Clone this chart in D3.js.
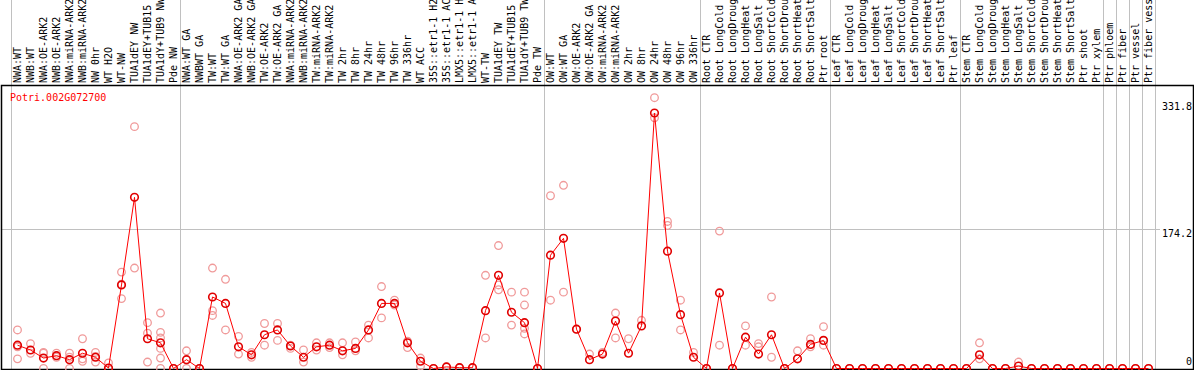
<!DOCTYPE html>
<html>
<head>
<meta charset="utf-8">
<script src="https://cdn.jsdelivr.net/npm/d3@7"></script>
<style>
  body { margin: 0; background: #fff; }
  svg text { font-family: "DejaVu Sans Mono", monospace; font-size: 10px; }
</style>
</head>
<body>
<div id="chart"></div>
<script>
// Expression of one gene across samples
const gene = "Potri.002G072700";

const samples = [
  "NWA:WT", "NWB:WT", "NWA:OE-ARK2", "NWB:OE-ARK2", "NWA:miRNA-ARK2", "NWB:miRNA-ARK2",
  "NW 0hr", "WT H2O", "WT-NW", "TUA1dEY NW", "TUA1dEY+TUB15 NW", "TUA1dY+TUB9 NW", "Pde NW",
  "NWA:WT GA", "NWBWT GA", "TW:WT", "TW:WT GA", "NWA:OE-ARK2 GA", "NWB:OE-ARK2 GA",
  "TW:OE-ARK2", "TW:OE-ARK2 GA", "NWA:miRNA-ARK2 GA", "NWB:miRNA-ARK2 GA", "TW:miRNA-ARK2",
  "TW:miRNA-ARK2 GA", "TW 2hr", "TW 8hr", "TW 24hr", "TW 48hr", "TW 96hr", "TW 336hr",
  "WT ACC", "35S::etr1-1 H2O", "35S::etr1-1 ACC", "LMX5::etr1-1 H2O", "LMX5::etr1-1 ACC",
  "WT-TW", "TUA1dEY TW", "TUA1dEY+TUB15 TW", "TUA1dY+TUB9 TW", "Pde TW",
  "OW:WT", "OW:WT GA", "OW:OE-ARK2", "OW:OE-ARK2 GA", "OW:miRNA-ARK2", "OW:miRNA-ARK2 GA",
  "OW 2hr", "OW 8hr", "OW 24hr", "OW 48hr", "OW 96hr", "OW 336hr",
  "Root CTR", "Root LongCold", "Root LongDrought", "Root LongHeat", "Root LongSalt",
  "Root ShortCold", "Root ShortDrought", "Root ShortHeat", "Root ShortSalt", "Ptr root",
  "Leaf CTR", "Leaf LongCold", "Leaf LongDrought", "Leaf LongHeat", "Leaf LongSalt",
  "Leaf ShortCold", "Leaf ShortDrought", "Leaf ShortHeat", "Leaf ShortSalt", "Ptr leaf",
  "Stem CTR", "Stem LongCold", "Stem LongDrought", "Stem LongHeat", "Stem LongSalt",
  "Stem ShortCold", "Stem ShortDrought", "Stem ShortHeat", "Stem ShortSalt", "Ptr shoot",
  "Ptr xylem", "Ptr phloem", "Ptr fiber", "Ptr vessel", "Ptr fiber vessel"
];

// index where each sample group starts (grey separators)
const groupStarts = [0, 13, 41, 53, 63, 73, 84, 85, 86, 87, 88];

// mean expression per sample
const means = [
  29, 23, 13, 16, 11, 19, 14, 0.5, 104, 213, 37, 32, 0,
  11, 0, 89, 81, 27, 17, 42, 48, 28, 14, 27, 29, 22, 25, 48, 81, 81, 32, 9,
  0, 2, 1, 1, 72, 116, 70, 57, 0,
  141, 162, 49, 11, 18, 59, 19, 53, 318, 146, 67, 14,
  0, 94, 0, 39, 18, 42, 0, 12, 30, 35,
  0, 0, 0, 0, 0, 0, 0, 0, 0, 0,
  0, 17, 0, 0, 3, 0, 0, 0, 0, 0, 0,
  0, 0, 0, 0
];

// replicate values per sample
const reps = [
  [48, 12, 27], [31, 19], [20, 0, 19], [19, 14], [19, 0, 14], [37, 12, 9], [20, 8, 15], [7, 0],
  [120, 87, 105], [301, 125], [57, 44, 8], [69, 45, 38, 25, 13, 0], [0],
  [22, 0], [0], [125, 72, 66], [111, 48], [40, 18], [20, 14], [56, 29], [56, 35], [29, 25],
  [23, 8], [32, 23], [32, 26], [32, 17], [33, 22], [54, 38], [102, 63], [85, 79], [34, 26],
  [13, 3], [0], [2], [1], [1], [116, 38], [153, 104, 98], [95, 54], [95, 79, 50, 43], [0],
  [215, 85], [228, 95], [49], [18], [20], [69, 38], [37], [60], [337, 312], [183, 178],
  [85, 48], [20],
  [0], [171, 29], [0], [53, 29], [31, 27], [89, 14], [0], [22], [37, 27], [52, 29],
  [0], [0], [0], [0], [0], [0], [0], [0], [0], [0],
  [0], [32, 12], [0], [0], [8], [0], [0], [0], [0], [0], [0],
  [0], [0], [0], [0]
];

const yTicks = [0, 174.2, 331.8];

const width = 1194, height = 370;
const frameTop = 85, frameBottom = 369, frameLeft = 1, frameRight = 1193;

const svg = d3.select("#chart")
  .append("svg")
    .attr("width", width)
    .attr("height", height);

const x = d3.scaleBand()
  .domain(samples)
  .range([11, 11 + 13 * samples.length]);

const y = d3.scaleLinear()
  .domain([0, 331.8])
  .range([368.5, 101.9]);

const sepX = d => (d < samples.length ? x(samples[d]) : x.range()[1]) + 0.5;

// group separators, full height
svg.selectAll(".sep")
  .data(groupStarts)
  .enter().append("line")
    .attr("x1", sepX)
    .attr("x2", sepX)
    .attr("y1", 0)
    .attr("y2", frameBottom)
    .attr("stroke", "#c0c0c0")
    .attr("stroke-width", 1);

// middle gridline
svg.append("line")
  .attr("x1", frameLeft).attr("x2", 1160)
  .attr("y1", Math.round(y(174.2)) + 0.5).attr("y2", Math.round(y(174.2)) + 0.5)
  .attr("stroke", "#c0c0c0");

// sample labels, rotated
svg.selectAll(".lab")
  .data(samples)
  .enter().append("text")
    .attr("transform", d => `translate(${x(d) + 10},83) rotate(-90)`)
    .attr("fill", "#000")
    .text(d => d);

// frame
svg.append("path")
  .attr("d", `M${frameLeft + 0.5},${frameTop + 0.5}H${frameRight + 0.5}V${frameBottom + 0.5}H${frameLeft + 0.5}Z`)
  .attr("fill", "none")
  .attr("stroke", "#000")
  .attr("stroke-width", 1.5);

// title
svg.append("text")
  .attr("x", 10).attr("y", 101)
  .attr("fill", "#ff0000")
  .text(gene);

// right value labels
svg.selectAll(".ytick")
  .data(yTicks)
  .enter().append("text")
    .attr("x", 1192)
    .attr("y", d => d === 0 ? y(d) - 3.5 : y(d) + 8)
    .attr("text-anchor", "end")
    .attr("fill", "#000")
    .text(d => d);

// replicates
const repPts = [];
reps.forEach((r, i) => r.forEach(v => repPts.push({ s: samples[i], v })));
svg.selectAll(".rep")
  .data(repPts)
  .enter().append("circle")
    .attr("cx", d => x(d.s) + x.bandwidth() / 2)
    .attr("cy", d => y(d.v))
    .attr("r", 3.8)
    .attr("fill", "none")
    .attr("stroke", "#f09a9a")
    .attr("stroke-width", 1.3);

// mean line
const line = d3.line()
  .x((d, i) => x(samples[i]) + x.bandwidth() / 2)
  .y(d => y(d));

svg.append("path")
  .datum(means)
  .attr("fill", "none")
  .attr("stroke", "#ff0000")
  .attr("stroke-width", 1)
  .attr("d", line);

svg.selectAll(".mean")
  .data(means)
  .enter().append("circle")
    .attr("cx", (d, i) => x(samples[i]) + x.bandwidth() / 2)
    .attr("cy", d => y(d))
    .attr("r", 3.8)
    .attr("fill", "none")
    .attr("stroke", "#e00000")
    .attr("stroke-width", 1.6);
</script>
</body>
</html>
